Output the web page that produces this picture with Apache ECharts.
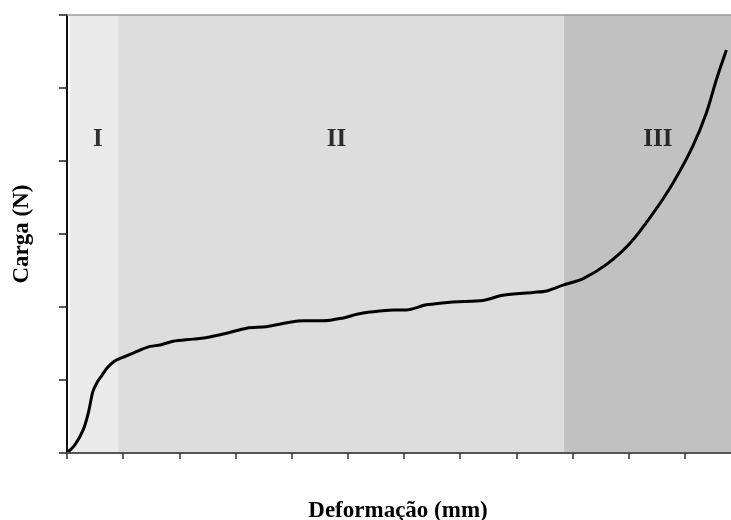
<!DOCTYPE html>
<html>
	<head>
		<meta charset="utf-8" />
		<title>Carga x Deformação</title>
		<style type="text/css">
			body,
			html,
			#chart {
				width: 100%;
				height: 100%;
				overflow: hidden;
				margin: 0;
				background: #fff;
			}
		</style>
	</head>
	<body>
		<div id="chart"></div>
		<script src="https://cdn.jsdelivr.net/npm/echarts@6/dist/echarts.min.js"></script>
		<script>
			// curva carga x deformação
			var deformacao = [0, 0.14, 0.29, 0.38, 0.46, 0.53, 0.61, 0.71, 0.85, 1.06, 1.30, 1.48, 1.66, 1.89, 2.25, 2.54, 2.84, 3.20, 3.55, 3.97, 4.21, 4.56, 4.92, 5.16, 5.39, 5.81, 6.04, 6.40, 6.87, 7.41, 7.76, 8.30, 8.54, 8.83, 9.19, 9.60, 10.02, 10.43, 10.79, 11.14, 11.38, 11.56, 11.74];
			var carga = [0, 0.11, 0.32, 0.55, 0.84, 0.96, 1.05, 1.16, 1.26, 1.33, 1.41, 1.46, 1.48, 1.53, 1.56, 1.59, 1.64, 1.71, 1.73, 1.79, 1.81, 1.81, 1.85, 1.90, 1.93, 1.96, 1.96, 2.03, 2.07, 2.09, 2.16, 2.20, 2.22, 2.30, 2.39, 2.58, 2.87, 3.28, 3.70, 4.20, 4.65, 5.11, 5.52];
			// fases I, II, III
			var fases = ['I', 'II', 'III'];
			var faseInicio = [0.05, 0.91, 8.85];
			var faseFim = [0.91, 8.85, 12];
			var faseCores = ['#eaeaea', '#dddddd', '#c1c1c1'];
			var rotuloX = [0.55, 4.8, 10.52];
			var rotuloY = 4.29;

			var fonte = 'Liberation Serif, Times New Roman, serif';
			var dom = document.getElementById('chart');
			var myChart = echarts.init(dom);

			var pontos = deformacao.map(function(x, i) {
				return [x, carga[i]];
			});
			var areas = fases.map(function(f, i) {
				return [
					{ xAxis: faseInicio[i], itemStyle: { color: faseCores[i] } },
					{ xAxis: faseFim[i] }
				];
			});
			var rotulos = fases.map(function(f, i) {
				return { value: [rotuloX[i], rotuloY], name: f };
			});

			var option = {
				animation: false,
				grid: { left: 67, top: 15, right: -10, bottom: 67, outerBoundsMode: 'none', containLabel: false },
				xAxis: [
					{
						type: 'value',
						min: 0,
						max: 12,
						interval: 1,
						z: 5,
						name: 'Deformação (mm)',
						nameLocation: 'middle',
						nameGap: 47,
						nameTextStyle: { fontFamily: fonte, fontWeight: 'bold', fontSize: 23, color: '#000', padding: [0, 12, 0, 0] },
						axisLine: { lineStyle: { color: '#555', width: 2 } },
						axisTick: { length: 6, lineStyle: { color: '#333', width: 1.5 } },
						axisLabel: { show: false },
						splitLine: { show: false }
					},
					{
						type: 'value',
						position: 'top',
						min: 0,
						max: 12,
						z: 5,
						axisLine: { show: true, lineStyle: { color: '#9a9a9a', width: 1.5 } },
						axisTick: { show: false },
						axisLabel: { show: false },
						splitLine: { show: false }
					}
				],
				yAxis: {
					type: 'value',
					min: 0,
					max: 6,
					interval: 1,
					z: 5,
					name: 'Carga (N)',
					nameLocation: 'middle',
					nameGap: 33,
					nameRotate: 90,
					nameTextStyle: { fontFamily: fonte, fontWeight: 'bold', fontSize: 23, color: '#000' },
					axisLine: { show: true, lineStyle: { color: '#111', width: 2 } },
					axisTick: { show: true, length: 8, lineStyle: { color: '#222', width: 1.5 } },
					axisLabel: { show: false },
					splitLine: { show: false }
				},
				series: [
					{
						type: 'line',
						data: pontos,
						smooth: 0.3,
						showSymbol: false,
						lineStyle: { color: '#000', width: 3 },
						z: 3,
						markArea: {
							silent: true,
							label: { show: false },
							data: areas
						}
					},
					{
						type: 'scatter',
						data: rotulos,
						symbolSize: 0,
						z: 4,
						silent: true,
						label: {
							show: true,
							position: 'inside',
							formatter: '{b}',
							fontFamily: fonte,
							fontWeight: 'bold',
							fontSize: 25,
							color: '#000'
						}
					}
				]
			};
			myChart.setOption(option);
		</script>
	</body>
</html>
